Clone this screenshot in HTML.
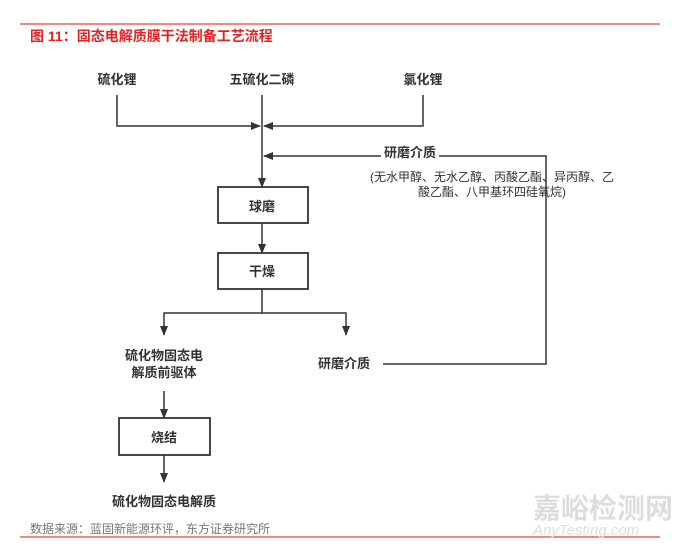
<!DOCTYPE html>
<html><head><meta charset="utf-8"><style>
body{margin:0;background:#fff;width:680px;height:548px;overflow:hidden}
svg text{font-family:"Liberation Sans","Noto Sans CJK SC",sans-serif}
</style></head><body>
<svg width="680" height="548" xmlns="http://www.w3.org/2000/svg">
<defs><marker id="a" markerWidth="10" markerHeight="10" refX="9" refY="5" orient="auto" markerUnits="userSpaceOnUse"><path d="M0,1 L10,5 L0,9 z" fill="#333"/></marker></defs>
<line x1="20" y1="24" x2="660" y2="24" stroke="#e8413c" stroke-width="1.2"/>
<text x="30" y="41" font-size="14" font-weight="bold" fill="#e02424">图 11：固态电解质膜干法制备工艺流程</text>
<g font-size="13" font-weight="bold" fill="#333" text-anchor="middle">
<text x="117" y="84">硫化锂</text><text x="262" y="84">五硫化二磷</text><text x="423" y="84">氯化锂</text>
<text x="410" y="157">研磨介质</text>
<text x="262" y="211">球磨</text><text x="262" y="276">干燥</text>
<text x="164" y="360">硫化物固态电</text><text x="164" y="377">解质前驱体</text>
<text x="344" y="368">研磨介质</text>
<text x="164" y="442">烧结</text>
<text x="164" y="506">硫化物固态电解质</text>
</g>
<g font-size="12" fill="#333" text-anchor="middle"><text x="492" y="181">(无水甲醇、无水乙醇、丙酸乙酯、异丙醇、乙</text><text x="492" y="196">酸乙酯、八甲基环四硅氧烷)</text></g>
<g stroke="#333" stroke-width="1.5" fill="none">
<polyline points="117,95 117,126 260,126" marker-end="url(#a)"/>
<polyline points="423,95 423,126 264,126" marker-end="url(#a)"/>
<line x1="262" y1="95" x2="262" y2="187" marker-end="url(#a)"/>
<polyline points="381,156 264,156" marker-end="url(#a)"/>
<polyline points="439,156 546,156 546,364 383,364"/>
<rect x="218" y="187" width="90" height="36" stroke-width="1.8"/>
<line x1="262" y1="223" x2="262" y2="253" marker-end="url(#a)"/>
<rect x="218" y="253" width="90" height="36" stroke-width="1.8"/>
<polyline points="262,289 262,313 164,313 164,335" marker-end="url(#a)"/>
<polyline points="262,313 346,313 346,335" marker-end="url(#a)"/>
<line x1="164" y1="391" x2="164" y2="418" marker-end="url(#a)"/>
<rect x="119" y="418" width="91" height="37" stroke-width="1.8"/>
<line x1="164" y1="455" x2="164" y2="482" marker-end="url(#a)"/>
</g>
<text x="30" y="533" font-size="12" fill="#777" font-family="Liberation Sans,Noto Sans CJK SC,sans-serif">数据来源：蓝固新能源环评，东方证券研究所</text>
<line x1="20" y1="537" x2="660" y2="537" stroke="#e8413c" stroke-width="1.2"/>
<text x="533" y="518" font-size="28" font-weight="bold" fill="#ddd">嘉峪检测网</text>
<text x="533" y="535" font-size="15" font-style="italic" fill="#ddd">AnyTesting.com</text>
</svg>
</body></html>
